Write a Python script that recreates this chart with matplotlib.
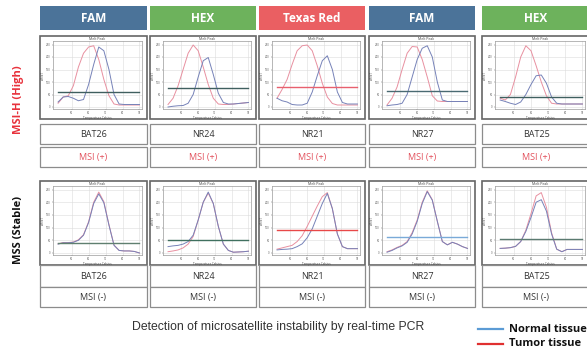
import matplotlib.pyplot as plt
from matplotlib.patches import Rectangle

W, H = 587, 355

# melt temperature grid (Celsius)
temps = [42, 45, 48, 51, 54, 57, 60, 63, 66, 69, 72, 75, 78, 81, 84, 87, 90]

dyes = ['FAM', 'HEX', 'Texas Red', 'FAM', 'HEX']
markers = ['BAT26', 'NR24', 'NR21', 'NR27', 'BAT25']
high_results = ['MSI (+)', 'MSI (+)', 'MSI (+)', 'MSI (+)', 'MSI (+)']
stable_results = ['MSI (-)', 'MSI (-)', 'MSI (-)', 'MSI (-)', 'MSI (-)']

# MSI-H (High) row, -dF/dT
bat26_h_normal = [20, 40, 42, 35, 25, 30, 90, 170, 240, 225, 150, 50, 12, 10, 10, 10, 10]
bat26_h_tumor = [15, 40, 45, 85, 160, 215, 240, 245, 190, 110, 45, 12, 8, 8, 8, 8, 8]
nr24_h_normal = [0, 3, 5, 6, 15, 50, 120, 185, 198, 130, 55, 18, 12, 12, 14, 16, 18]
nr24_h_tumor = [10, 35, 85, 150, 215, 248, 225, 160, 90, 35, 12, 10, 10, 12, 14, 16, 18]
nr21_h_normal = [35, 25, 20, 10, 8, 8, 15, 60, 125, 185, 205, 150, 60, 18, 12, 12, 12]
nr21_h_tumor = [35, 70, 110, 170, 225, 245, 248, 225, 165, 95, 40, 14, 8, 8, 8, 8, 8]
nr27_h_normal = [5, 8, 10, 15, 50, 120, 190, 235, 245, 200, 100, 28, 22, 22, 22, 22, 22]
nr27_h_tumor = [8, 35, 80, 150, 215, 242, 240, 190, 120, 45, 24, 22, 22, 22, 22, 22, 22]
bat25_h_normal = [28, 22, 15, 10, 20, 50, 90, 125, 128, 95, 40, 15, 12, 12, 12, 12, 12]
bat25_h_tumor = [35, 28, 50, 120, 200, 245, 225, 165, 100, 45, 15, 12, 12, 12, 12, 12, 12]
high_threshold = [59, 75, 82, 64, 41]

# MSS (Stable) row
bat26_s_normal = [35, 40, 40, 42, 50, 70, 120, 195, 233, 198, 110, 30, 10, 8, 8, 6, 0]
bat26_s_tumor = [36, 41, 41, 43, 52, 72, 123, 200, 240, 202, 112, 31, 10, 8, 8, 6, 0]
nr24_s_normal = [25, 28, 30, 35, 45, 70, 130, 200, 240, 195, 105, 35, 10, 3, 4, 5, 7]
nr24_s_tumor = [5, 8, 12, 20, 35, 65, 130, 200, 236, 195, 105, 35, 10, 3, 4, 5, 7]
nr21_s_normal = [12, 14, 15, 17, 25, 36, 60, 95, 145, 195, 235, 175, 75, 25, 17, 17, 17]
nr21_s_tumor = [15, 20, 25, 30, 45, 68, 105, 145, 185, 222, 238, 175, 75, 25, 17, 17, 17]
nr27_s_normal = [3, 10, 20, 28, 42, 75, 125, 195, 242, 208, 125, 45, 32, 42, 35, 25, 18]
nr27_s_tumor = [5, 12, 22, 30, 45, 80, 130, 200, 245, 210, 125, 45, 32, 42, 35, 25, 18]
bat25_s_normal = [18, 19, 21, 26, 45, 85, 140, 200, 210, 165, 75, 15, 5, 14, 14, 14, 14]
bat25_s_tumor = [18, 19, 21, 26, 45, 90, 155, 225, 238, 180, 80, 15, 5, 14, 14, 14, 14]
stable_threshold = [40, 50, 91, 63, 57]

high_normal = [bat26_h_normal, nr24_h_normal, nr21_h_normal, nr27_h_normal, bat25_h_normal]
high_tumor = [bat26_h_tumor, nr24_h_tumor, nr21_h_tumor, nr27_h_tumor, bat25_h_tumor]
stable_normal = [bat26_s_normal, nr24_s_normal, nr21_s_normal, nr27_s_normal, bat25_s_normal]
stable_tumor = [bat26_s_tumor, nr24_s_tumor, nr21_s_tumor, nr27_s_tumor, bat25_s_tumor]

# styles
DYE_COLOR = {'FAM': '#4b7399', 'HEX': '#6db25c', 'Texas Red': '#ea5f62'}
HIGH_THR_COLOR = ['#3f5f5f', '#3f5f5f', '#e8606e', '#4a6a72', '#3f5f5f']
STABLE_THR_COLOR = ['#5f7f6f', '#40705f', '#e84848', '#7aaad8', '#5a7a70']
CURVE_RED = '#e890a0'
CURVE_BLUE = '#7682b8'
TEXT_DARK = '#333333'
MSI_RED = '#e2505c'
col_x = [(40, 147), (150, 256), (259, 365), (369, 475), (482, 590)]

plt.rcParams['font.family'] = ['Open Sans', 'DejaVu Sans']

fig = plt.figure(figsize=(W / 100, H / 100), dpi=100)
bg = fig.add_axes([0, 0, 1, 1])
bg.set_xlim(0, W)
bg.set_ylim(H, 0)
bg.axis('off')


def box(x0, y0, x1, y1, fc='white', ec='#8c8c8c', lw=0.9):
    bg.add_patch(Rectangle((x0, y0), x1 - x0, y1 - y0, facecolor=fc, edgecolor=ec, linewidth=lw))


def melt_axes(x0, y0, x1, y1, normal, tumor, thr, thr_color):
    # small melt-peak chart inside a panel box
    left, right, top, bottom = x0 + 13, x1 - 5, y0 + 5, y1 - 10
    ax = fig.add_axes([left / W, 1 - bottom / H, (right - left) / W, (bottom - top) / H])
    ax.plot(temps, tumor, color=CURVE_RED, linewidth=0.7, solid_joinstyle='round')
    ax.plot(temps, normal, color=CURVE_BLUE, linewidth=0.7, solid_joinstyle='round')
    ax.plot([temps[0], temps[-1]], [thr, thr], color=thr_color, linewidth=1.0)
    ax.set_xlim(39, 91.5)
    ax.set_ylim(-8, 264)
    ax.set_xticks([50, 60, 70, 80, 90])
    ax.set_yticks([0, 50, 100, 150, 200, 250])
    ax.tick_params(labelsize=2, length=1, width=0.3, pad=0.8, colors='#555555')
    ax.grid(True, color='#dcdcdc', linewidth=0.4)
    for s in ax.spines.values():
        s.set_color('#9a9a9a')
        s.set_linewidth(0.5)
    ax.set_title('Melt Peak', fontsize=2.5, pad=0.8, color='#444444')
    ax.set_xlabel('Temperature Celsius', fontsize=2.2, labelpad=0.5, color='#444444')
    ax.set_ylabel('-dF/dT', fontsize=2.2, labelpad=0.5, color='#444444')


for i, (xa, xb) in enumerate(col_x):
    xc = (xa + xb) / 2
    # dye header
    box(xa, 6, xb, 30, fc=DYE_COLOR[dyes[i]], ec='none', lw=0)
    bg.text(xc, 18.5, dyes[i], ha='center', va='center', color='white',
            fontsize=8.5, fontweight='bold')

    # MSI-H row
    box(xa, 36, xb, 119, ec='#666666', lw=1.2)
    melt_axes(xa, 36, xb, 119, high_normal[i], high_tumor[i], high_threshold[i], HIGH_THR_COLOR[i])
    box(xa, 124, xb, 144)
    bg.text(xc, 134.5, markers[i], ha='center', va='center', color=TEXT_DARK, fontsize=6.5)
    box(xa, 147, xb, 167)
    bg.text(xc, 157.5, high_results[i], ha='center', va='center', color=MSI_RED, fontsize=6.5)

    # MSS row
    box(xa, 181, xb, 265, ec='#666666', lw=1.2)
    melt_axes(xa, 181, xb, 265, stable_normal[i], stable_tumor[i], stable_threshold[i], STABLE_THR_COLOR[i])
    box(xa, 265, xb, 287)
    bg.text(xc, 276.5, markers[i], ha='center', va='center', color=TEXT_DARK, fontsize=6.5)
    box(xa, 287, xb, 307)
    bg.text(xc, 297.5, stable_results[i], ha='center', va='center', color=TEXT_DARK, fontsize=6.5)

# row labels
bg.text(19, 100, 'MSI-H (High)', rotation=90, ha='center', va='center',
        color='#e8323c', fontsize=8, fontweight='bold')
bg.text(19, 230, 'MSS (Stable)', rotation=90, ha='center', va='center',
        color='#111111', fontsize=8, fontweight='bold')

# caption
bg.text(278, 327, 'Detection of microsatellite instability by real-time PCR',
        ha='center', va='center', color=TEXT_DARK, fontsize=8.8, family='Liberation Sans')

# legend
bg.plot([478, 503], [329, 329], color='#5b9bd5', linewidth=1.6)
bg.plot([478, 503], [344, 344], color='#e03030', linewidth=1.6)
bg.text(509, 329, 'Normal tissue', ha='left', va='center', color='#111111',
        fontsize=8, fontweight='bold')
bg.text(509, 344, 'Tumor tissue', ha='left', va='center', color='#111111',
        fontsize=8, fontweight='bold')

fig.savefig('out.png', dpi=100)
